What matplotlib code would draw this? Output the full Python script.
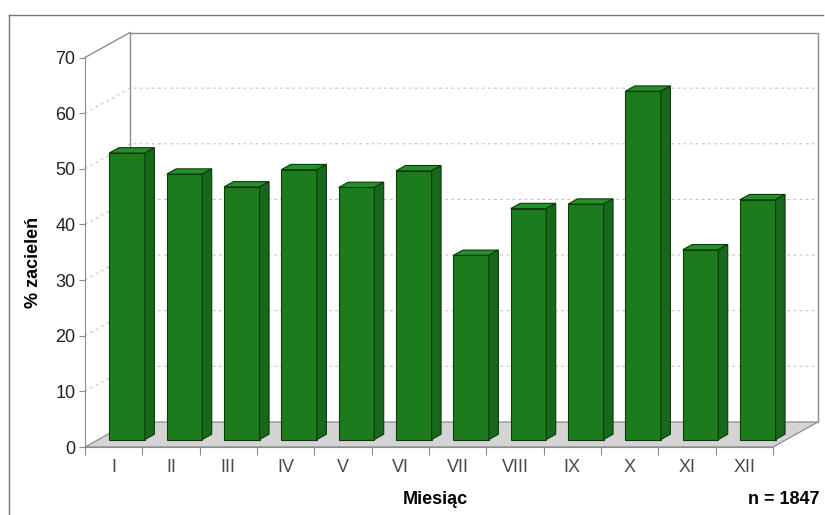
import numpy as np
import matplotlib.pyplot as plt
import matplotlib.patches as mpatches
from matplotlib.lines import Line2D

plt.rcParams['font.family'] = ['Liberation Sans', 'DejaVu Sans']

months = ['I', 'II', 'III', 'IV', 'V', 'VI', 'VII', 'VIII', 'IX', 'X', 'XI', 'XII']
share = [51.5, 47.7, 45.4, 48.5, 45.3, 48.3, 33.1, 41.5, 42.3, 62.6, 34.1, 43.1]
y_ticks = [0, 10, 20, 30, 40, 50, 60, 70]

W, H = 825, 515
# front plane of the plot in pixels
x0, x1 = 85, 773
y_bot, y_top = 447, 57.5
depth_px = (45, 25)

fig = plt.figure(figsize=(W / 100, H / 100), dpi=100)
ax = fig.add_axes([x0 / W, (H - y_bot) / H, (x1 - x0) / W, (y_bot - y_top) / H])
ax.set_xlim(-0.5, 11.5)
ax.set_ylim(0, 70)
ax.patch.set_alpha(0)

# depth vector in data units
ddx = depth_px[0] / ((x1 - x0) / 12)
ddy = depth_px[1] / ((y_bot - y_top) / 70)

wall = '#8c8c8c'
grid = '#c4c4c4'

# floor
floor = mpatches.Polygon([(-0.5, 0), (11.5, 0), (11.5 + ddx, ddy), (-0.5 + ddx, ddy)],
                         closed=True, facecolor='#d4d4d4', edgecolor=wall, lw=0.9,
                         clip_on=False, zorder=1)
ax.add_patch(floor)

# back wall and left side wall outlines
ax.plot([-0.5 + ddx, -0.5 + ddx, 11.5 + ddx, 11.5 + ddx],
        [ddy, 70 + ddy, 70 + ddy, ddy], color=wall, lw=1.0, clip_on=False, zorder=1)
ax.plot([-0.5, -0.5 + ddx], [70, 70 + ddy], color=wall, lw=1.0, clip_on=False, zorder=1)

# dotted gridlines on the back and side walls
for v in y_ticks[1:-1]:
    ax.plot([-0.5, -0.5 + ddx, 11.5 + ddx], [v, v + ddy, v + ddy],
            color=grid, lw=0.8, ls=(0, (2.5, 3)), clip_on=False, zorder=1)

# bars: front faces plus top and side faces
x = np.arange(len(months))
w = 0.62
f0, fb = 0.30, 0.21
bx = x + f0 * ddx
by = f0 * ddy
front = '#1c7c1c'
top_c = '#24902a'
side_c = '#17681a'
edge = '#0b3a0b'
ax.bar(bx, share, width=w, bottom=by, color=front, edgecolor=edge, lw=0.8,
       clip_on=False, zorder=3)
for xi, v in zip(bx, share):
    l, r, t = xi - w / 2, xi + w / 2, by + v
    sx, sy = fb * ddx, fb * ddy
    ax.add_patch(mpatches.Polygon([(l, t), (r, t), (r + sx, t + sy), (l + sx, t + sy)],
                                  closed=True, facecolor=top_c, edgecolor=edge, lw=0.8,
                                  clip_on=False, zorder=3))
    ax.add_patch(mpatches.Polygon([(r, by), (r + sx, by + sy), (r + sx, t + sy), (r, t)],
                                  closed=True, facecolor=side_c, edgecolor=edge, lw=0.8,
                                  clip_on=False, zorder=3))

# axes styling
for s in ['top', 'right']:
    ax.spines[s].set_visible(False)
ax.spines['left'].set_color(wall)
ax.spines['bottom'].set_color(wall)
ax.spines['bottom'].set_zorder(2)
ax.set_yticks(y_ticks)
ax.tick_params(axis='y', direction='out', length=4, width=0.8, color=wall, pad=3,
               labelsize=13, labelcolor='#222222')
ax.set_xticks(x)
ax.set_xticklabels(months)
ax.set_xticks(np.arange(-0.5, 12, 1), minor=True)
ax.tick_params(axis='x', which='major', length=0, pad=9, labelsize=13, labelcolor='#4a4a4a')
ax.tick_params(axis='x', which='minor', direction='out', length=6, width=0.8, color=wall)

fig.text(33 / W, 1 - 262 / H, '% zacieleń', rotation=90, ha='center', va='center',
         fontsize=13, fontweight='bold')
fig.text(435 / W, 1 - 500 / H, 'Miesiąc', ha='center', va='center',
         fontsize=13, fontweight='bold')
fig.text(820 / W, 1 - 500 / H, 'n = 1847', ha='right', va='center',
         fontsize=13, fontweight='bold')

# outer frame
fig.add_artist(Line2D([9 / W, 9 / W], [0, 1 - 15 / H], transform=fig.transFigure,
                      color='#777777', lw=1.0))
fig.add_artist(Line2D([9 / W, 823 / W], [1 - 15 / H, 1 - 15 / H], transform=fig.transFigure,
                      color='#777777', lw=1.0))

fig.savefig('out.png', dpi=100, facecolor='white')
